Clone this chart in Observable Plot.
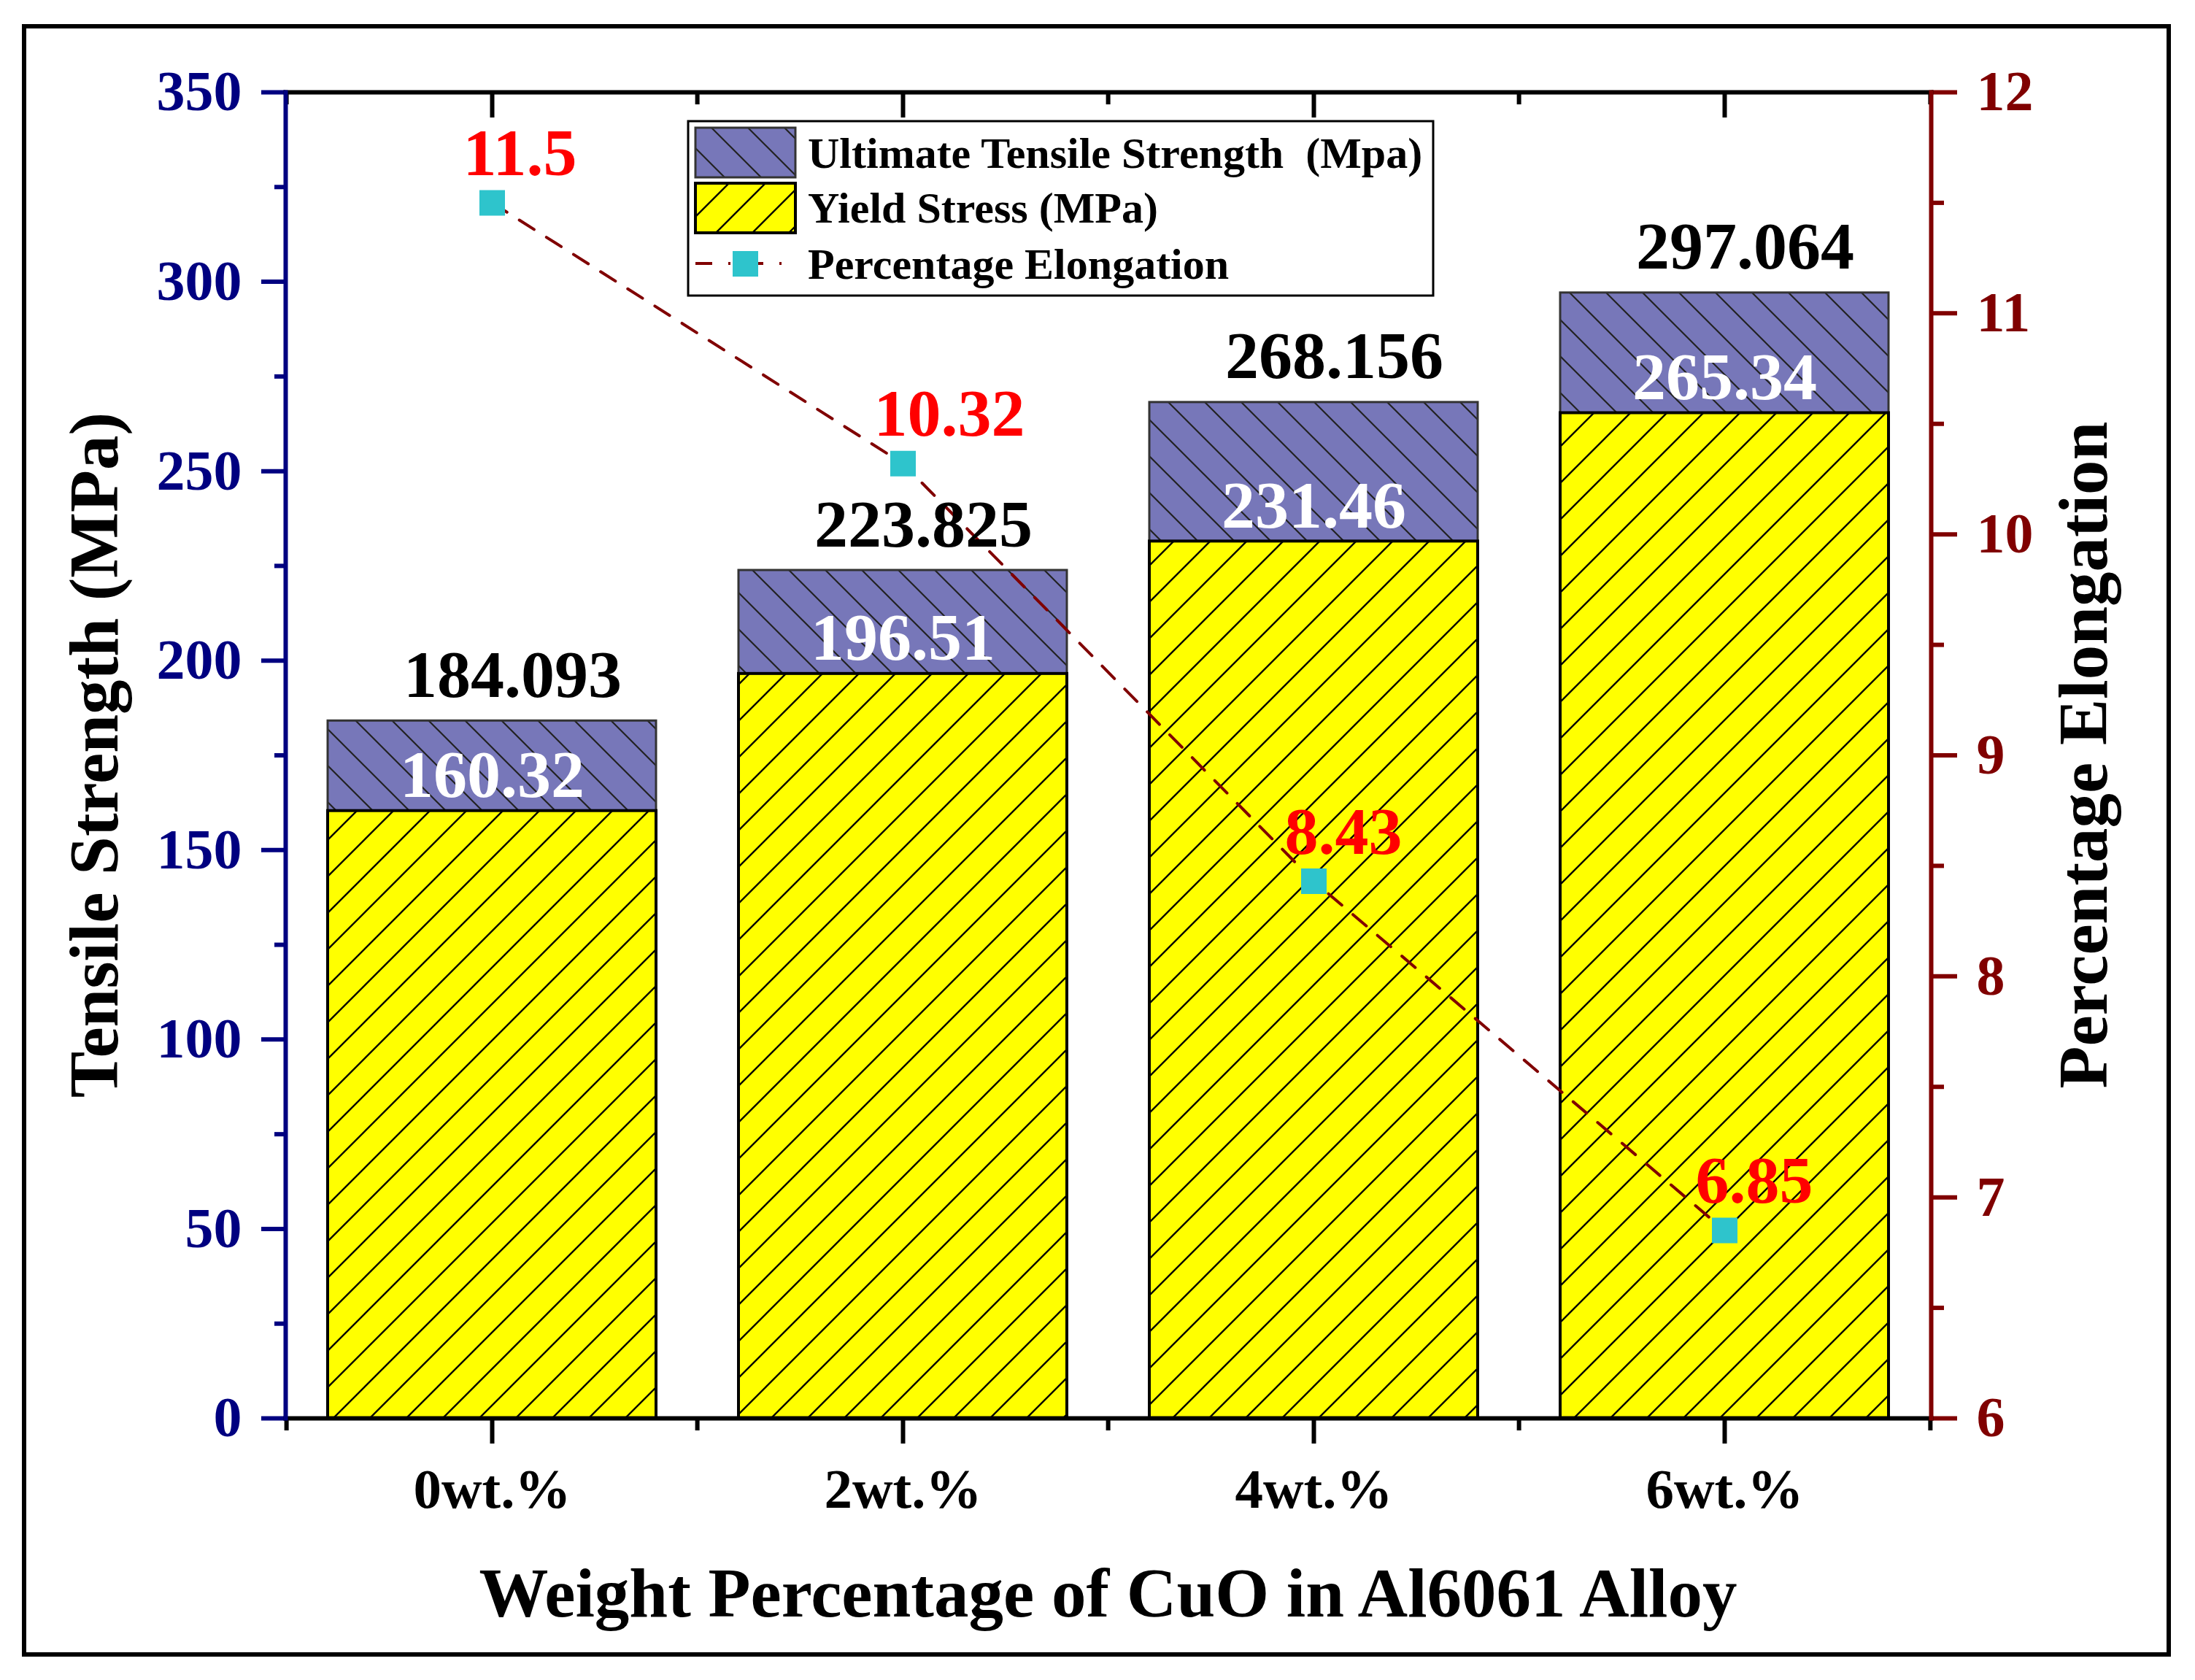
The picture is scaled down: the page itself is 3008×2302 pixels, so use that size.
<!DOCTYPE html>
<html><head><meta charset="utf-8">
<script src="https://cdn.jsdelivr.net/npm/d3@7"></script>
<script src="https://cdn.jsdelivr.net/npm/@observablehq/plot@0.6"></script>
<style>html,body{margin:0;padding:0;background:#fff;} svg{display:block}</style>
</head><body><div id="chart"></div>
<script>
// ---- data ----
const categories = ["0wt.%", "2wt.%", "4wt.%", "6wt.%"];
const ultimateStrength = [184.093, 223.825, 268.156, 297.064];
const yieldStress = [160.32, 196.51, 231.46, 265.34];
const elongation = [11.5, 10.32, 8.43, 6.85];
const leftTicks = [0, 50, 100, 150, 200, 250, 300, 350];
const leftMinorTicks = [25, 75, 125, 175, 225, 275, 325];
const rightTicks = [6, 7, 8, 9, 10, 11, 12];
const rightMinorTicks = [6.5, 7.5, 8.5, 9.5, 10.5, 11.5];
const legendLabels = ["Ultimate Tensile Strength \u00a0(Mpa)", "Yield Stress (MPa)", "Percentage Elongation"];

// ---- scales helpers ----
const TS_MAX = 350, PE_MIN = 6, PE_MAX = 12;
const toLeft = v => (v - PE_MIN) * TS_MAX / (PE_MAX - PE_MIN);
const fromLeft = v => PE_MIN + v * (PE_MAX - PE_MIN) / TS_MAX;

const data = categories.map((c, i) => ({cat: c, uts: ultimateStrength[i], ys: yieldStress[i], pe: elongation[i]}));

const W = 3008, H = 2302;
const mL = 391, mR = 362, mT = 126, mB = 359;
const step = (W - mL - mR) / categories.length;
const navy = "#000080", maroon = "#800000", cyan = "#2EC4CC", violet = "#7777B9";
const serif = "'Liberation Serif','Times New Roman',serif";
const noText = () => "";

const chart = Plot.plot({
  width: W, height: H,
  marginLeft: mL, marginRight: mR, marginTop: mT, marginBottom: mB,
  style: {fontFamily: serif, fontWeight: "bold", background: "white", overflow: "visible"},
  x: {type: "band", domain: categories, paddingInner: 0.2, paddingOuter: 0.1, label: null},
  y: {domain: [0, TS_MAX], label: null},
  marks: [
    Plot.barY(data, {x: "cat", y1: "ys", y2: "uts", fill: "url(#hatchUTS)", stroke: "#333", strokeWidth: 3}),
    Plot.barY(data, {x: "cat", y1: 0, y2: "ys", fill: "url(#hatchYield)", stroke: "black", strokeWidth: 4}),
    Plot.line(data, {x: "cat", y: d => toLeft(d.pe), stroke: maroon, strokeWidth: 4, strokeDasharray: "24,20"}),
    Plot.dot(data, {x: "cat", y: d => toLeft(d.pe), symbol: "square", r: 19.75, fill: cyan}),
    Plot.text(data, {x: "cat", y: "uts", text: d => String(d.uts), lineAnchor: "bottom", dy: -33, dx: 28, fontSize: 92, fill: "black"}),
    Plot.text(data, {x: "cat", y: "ys", text: d => String(d.ys), lineAnchor: "bottom", dy: -19, fontSize: 92, fill: "white"}),
    Plot.text(data, {x: "cat", y: d => toLeft(d.pe), text: d => String(d.pe), lineAnchor: "bottom", textAnchor: "start", dy: -38, dx: -40, fontSize: 92, fill: "#FF0000"}),
    // left axis
    Plot.axisY({anchor: "left", ticks: leftTicks, tickSize: 33, tickPadding: 27, fontSize: 78, color: navy, strokeWidth: 6, label: null}),
    Plot.axisY({anchor: "left", ticks: leftMinorTicks, tickSize: 15, tickFormat: noText, color: navy, strokeWidth: 6, label: null}),
    // right axis
    Plot.axisY({anchor: "right", ticks: rightTicks.map(toLeft), tickFormat: d => String(Math.round(fromLeft(d))), tickSize: 35, tickPadding: 27, fontSize: 78, color: maroon, strokeWidth: 6, label: null}),
    Plot.axisY({anchor: "right", ticks: rightMinorTicks.map(toLeft), tickSize: 17, tickFormat: noText, color: maroon, strokeWidth: 6, label: null}),
    // bottom axis
    Plot.axisX({anchor: "bottom", ticks: categories, tickSize: 35, tickPadding: 33, fontSize: 77, color: "black", strokeWidth: 6, label: null}),
    Plot.axisX({anchor: "bottom", ticks: categories, tickSize: 17, tickFormat: noText, dx: -step / 2, color: "black", strokeWidth: 6, label: null}),
    Plot.axisX({anchor: "bottom", ticks: categories.slice(-1), tickSize: 17, tickFormat: noText, dx: step / 2, color: "black", strokeWidth: 6, label: null}),
    // top axis (inward ticks)
    Plot.axisX({anchor: "top", ticks: categories, tickSize: -34, tickFormat: noText, color: "black", strokeWidth: 6, label: null}),
    Plot.axisX({anchor: "top", ticks: categories, tickSize: -16, tickFormat: noText, dx: -step / 2, color: "black", strokeWidth: 6, label: null}),
    Plot.axisX({anchor: "top", ticks: categories.slice(-1), tickSize: -16, tickFormat: noText, dx: step / 2, color: "black", strokeWidth: 6, label: null}),
    Plot.frame({anchor: "top", stroke: "black", strokeWidth: 6}),
    Plot.frame({anchor: "bottom", stroke: "black", strokeWidth: 6}),
    Plot.frame({anchor: "left", stroke: navy, strokeWidth: 6}),
    Plot.frame({anchor: "right", stroke: maroon, strokeWidth: 6})
  ]
});

document.getElementById("chart").appendChild(chart);
const svg = d3.select(chart);

// hatch patterns
const defs = svg.insert("defs", ":first-child");
const pY = defs.append("pattern").attr("id", "hatchYield").attr("patternUnits", "userSpaceOnUse").attr("width", 50).attr("height", 50);
pY.append("rect").attr("width", 50).attr("height", 50).attr("fill", "#FFFF00");
pY.append("path").attr("d", "M-10,10 L10,-10 M0,50 L50,0 M40,60 L60,40").attr("stroke", "black").attr("stroke-width", 2.4);
const pU = defs.append("pattern").attr("id", "hatchUTS").attr("patternUnits", "userSpaceOnUse").attr("width", 50).attr("height", 50);
pU.append("rect").attr("width", 50).attr("height", 50).attr("fill", violet);
pU.append("path").attr("d", "M-10,40 L10,60 M0,0 L50,50 M40,-10 L60,10").attr("stroke", "#222").attr("stroke-width", 2.2);

// axis titles
svg.append("text").attr("transform", `translate(161,${(mT + H - mB) / 2}) rotate(-90)`)
  .attr("text-anchor", "middle").attr("font-size", 95).attr("font-weight", "bold").attr("fill", "black")
  .text("Tensile Strength (MPa)");
svg.append("text").attr("transform", `translate(2887,${(mT + H - mB) / 2}) rotate(-90)`)
  .attr("text-anchor", "middle").attr("font-size", 95).attr("font-weight", "bold").attr("fill", "black")
  .text("Percentage Elongation");
svg.append("text").attr("x", (mL + W - mR) / 2).attr("y", 2215)
  .attr("text-anchor", "middle").attr("font-size", 95).attr("font-weight", "bold").attr("fill", "black")
  .text("Weight Percentage of CuO in Al6061 Alloy");

// legend
const lg = svg.append("g");
lg.append("rect").attr("x", 943).attr("y", 166).attr("width", 1021).attr("height", 239).attr("fill", "white").attr("stroke", "black").attr("stroke-width", 3);
lg.append("rect").attr("x", 953).attr("y", 175).attr("width", 137).attr("height", 68).attr("fill", "url(#hatchUTS)").attr("stroke", "#333").attr("stroke-width", 3);
lg.append("rect").attr("x", 953).attr("y", 251).attr("width", 137).attr("height", 68).attr("fill", "url(#hatchYield)").attr("stroke", "black").attr("stroke-width", 4);
lg.append("line").attr("x1", 953).attr("x2", 1090).attr("y1", 361).attr("y2", 361).attr("stroke", maroon).attr("stroke-width", 4).attr("stroke-dasharray", "23,22,3,22");
lg.append("rect").attr("x", 1004).attr("y", 344).attr("width", 35).attr("height", 35).attr("fill", cyan);
[230, 305, 382].forEach((yb, i) => {
  lg.append("text").attr("x", 1107).attr("y", yb).attr("text-anchor", "start").attr("font-size", 60).attr("font-weight", "bold").attr("fill", "black").text(legendLabels[i]);
});

// outer frame
svg.append("rect").attr("x", 33).attr("y", 36).attr("width", 2939).attr("height", 2231).attr("fill", "none").attr("stroke", "black").attr("stroke-width", 6);
</script>
</body></html>
